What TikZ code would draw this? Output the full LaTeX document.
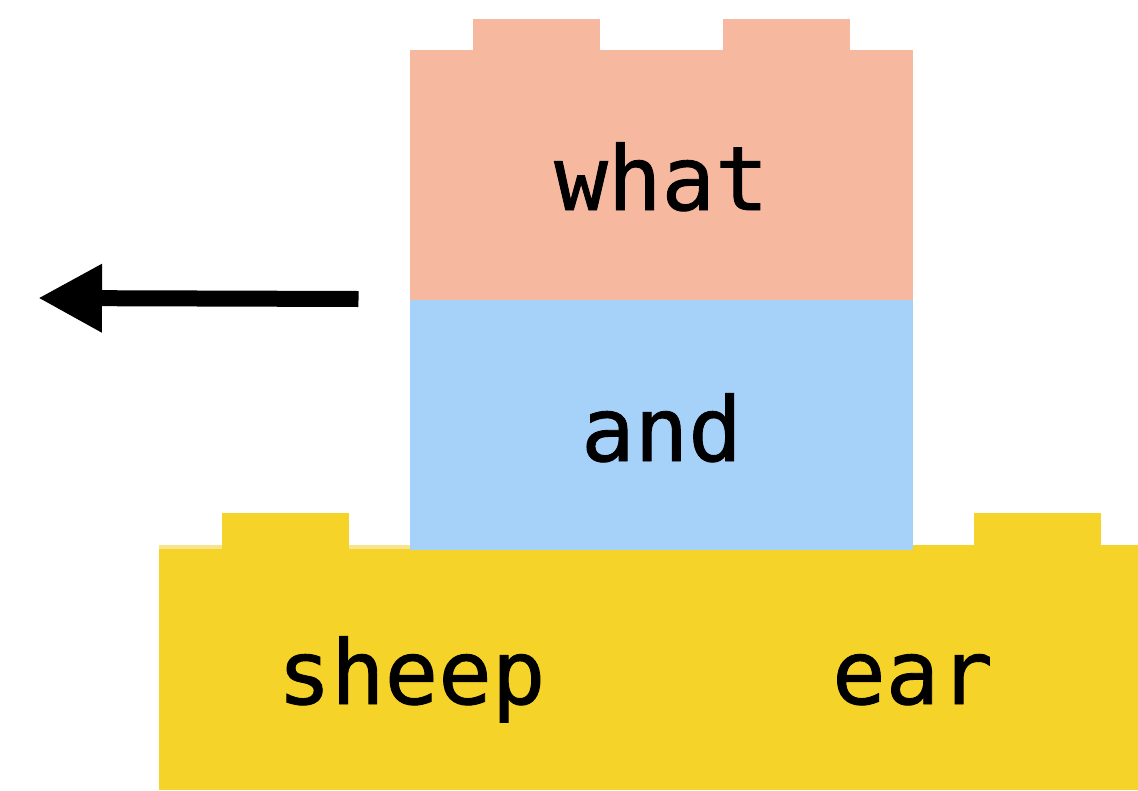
\documentclass[tikz,border=0pt]{standalone}
\usepackage{fontspec}
\newfontfamily\blockmono[FakeBold=1]{DejaVu Sans Mono}
\usetikzlibrary{arrows.meta}
\definecolor{brickpink}{HTML}{F6B9A0}
\definecolor{brickblue}{HTML}{A6D1F9}
\definecolor{brickyellow}{HTML}{F5D329}
\definecolor{paleyellow}{HTML}{F9E48E}
\tikzset{
  word/.style={font=\blockmono\fontsize{89}{100}\selectfont, anchor=base, inner sep=0pt, text=black},
  pointer/.style={line width=16pt, line cap=butt, -{Triangle[length=64pt,width=64pt]}}
}
\begin{document}
\begin{tikzpicture}[x=1pt,y=-1pt]
\useasboundingbox (0,0) rectangle (1138,790);
\fill[white] (0,0) rectangle (1138,790);
% pink brick
\fill[brickpink] (410,50) rectangle (913,300);
\fill[brickpink] (473,19) rectangle (600,50.5);
\fill[brickpink] (723,19) rectangle (850,50.5);
% yellow brick
\fill[paleyellow] (159,545) rectangle (410,549);
\fill[brickyellow] (159,549) rectangle (1138,790);
\fill[brickyellow] (913,545) rectangle (1138,549.5);
\fill[brickyellow] (222,513) rectangle (349,549.5);
\fill[brickyellow] (974,513) rectangle (1101,545.5);
% blue brick
\fill[brickblue] (410,300) rectangle (913,550);
% words
\node[word] (what) at (661.5,210) {what};
\node[word] (and) at (661.5,461) {and};
\node[word] (sheep) at (411.5,704) {sheep};
\node[word] (ear) at (912.5,704) {ear};
% arrow
\coordinate (tail) at (358.5,299);
\coordinate (tip) at (38,298);
\draw[pointer] (tail) -- (tip);
\end{tikzpicture}
\end{document}
